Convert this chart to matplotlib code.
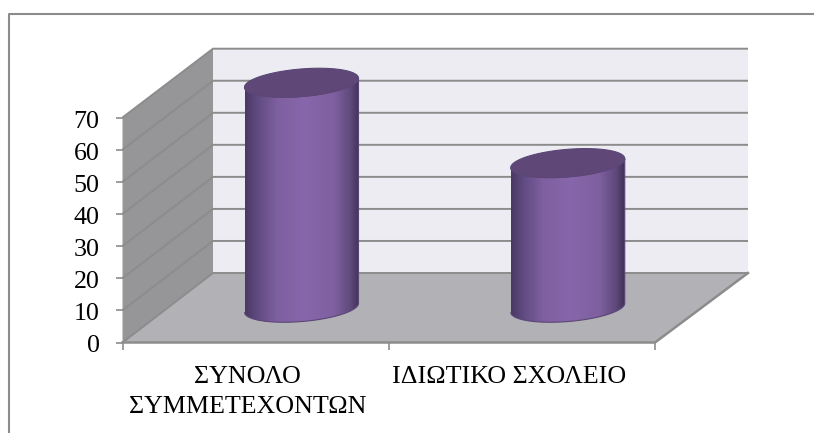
import numpy as np
import matplotlib
matplotlib.use("Agg")
import matplotlib.pyplot as plt
from matplotlib.lines import Line2D
from matplotlib.patches import Polygon, PathPatch
from matplotlib.path import Path
from matplotlib.colors import LinearSegmentedColormap
from matplotlib.transforms import ScaledTranslation

categories = ["ΣΥΝΟΛΟ\nΣΥΜΜΕΤΕΧΟΝΤΩΝ", "ΙΔΙΩΤΙΚΟ ΣΧΟΛΕΙΟ"]
values = [70, 45]
y_ticks = [0, 10, 20, 30, 40, 50, 60, 70]

W, H = 814, 433
plt.rcParams["font.family"] = ["Liberation Serif", "DejaVu Serif"]
fig = plt.figure(figsize=(W / 100, H / 100), dpi=100)
L, R, B, T = 122.5, 655, 342.5, 117.5
ax = fig.add_axes([L / W, 1 - B / H, (R - L) / W, (B - T) / H])
ax.set_xlim(-0.5, 1.5)
ax.set_ylim(0, 70)
ax.patch.set_visible(False)
for s in ax.spines.values():
    s.set_visible(False)

px = 2 / (R - L)               # data units per pixel, x
py = 70 / (B - T)              # data units per pixel, y
DXL, DXR, DY = 90.5 * px, 93 * px, 69.5 * py   # depth offsets of the back wall
SCALE = 224.3 / 225            # back wall is very slightly shorter
GRID = "#8c8c8c"
xl, xr = -0.5, 1.5
ymax = y_ticks[-1]
back = lambda v: DY + v * SCALE

# back wall, side wall, floor
ax.add_patch(Polygon([(xl + DXL, back(0)), (xr + DXR, back(0)), (xr + DXR, back(ymax)), (xl + DXL, back(ymax))],
                     fc="#edecf2", ec="none", zorder=1, clip_on=False))
ax.add_patch(Polygon([(xl, 0), (xl + DXL, back(0)), (xl + DXL, back(ymax)), (xl, ymax)],
                     fc="#969698", ec="none", zorder=1, clip_on=False))
ax.add_patch(Polygon([(xl, 0), (xr, 0), (xr + DXR, back(0)), (xl + DXL, back(0))],
                     fc="#b2b1b5", ec="none", zorder=1, clip_on=False))
for v in y_ticks:
    ax.plot([xl, xl + DXL, xr + DXR], [v, back(v), back(v)], color=GRID, lw=1.4, zorder=2,
            clip_on=False, solid_joinstyle="miter", solid_capstyle="butt")
ax.plot([xl, xr, xr + DXR], [0, 0, back(0)], color=GRID, lw=1.8, zorder=2.5, clip_on=False)

# cylinders
cmap = LinearSegmentedColormap.from_list("cyl", [
    (0.00, "#4a3963"), (0.10, "#5f4a80"), (0.28, "#7e5f9f"), (0.52, "#8767ab"),
    (0.78, "#7e5f9f"), (0.92, "#5f4a7c"), (1.00, "#3f3056")])
RX, SK, RY = 57 * px, 4.5 * py, 13.8 * py
t = np.linspace(0, 2 * np.pi, 121)
grad = np.linspace(0, 1, 256).reshape(1, -1)
for i, v in enumerate(values):
    cx, cy = i + (DXL + DXR) / 4, DY / 2
    ex = RX * np.cos(t)
    ey = SK * np.cos(t) + RY * np.sin(t)
    hi = t[t >= np.pi]                                   # lower half of the rim
    bx = np.r_[cx + RX * np.cos(hi), cx + RX * np.cos(hi[::-1])]
    by = np.r_[cy + SK * np.cos(hi) + RY * np.sin(hi),
               cy + v + SK * np.cos(hi[::-1]) + RY * np.sin(hi[::-1])]
    im = ax.imshow(grad, cmap=cmap, aspect="auto", zorder=3,
                   extent=(cx - RX, cx + RX, cy - RY - 1, cy + v + RY + 1))
    body = PathPatch(Path(np.c_[bx, by]), fc="none", ec="#5b4676", lw=0.8, zorder=3.1, clip_on=False)
    ax.add_patch(body)
    im.set_clip_path(body)
    im.set_clip_box(fig.bbox)
    ax.add_patch(Polygon(np.c_[cx + ex, cy + v + ey], closed=True, fc="#5f4878",
                         ec="#5b4676", lw=0.8, zorder=3.2, clip_on=False))
ax.set_xlim(-0.5, 1.5)
ax.set_ylim(0, 70)

# ticks
ax.set_yticks(y_ticks)
ax.set_xticks([-0.5, 0.5, 1.5])
ax.set_xticklabels([])
ax.set_xticks(range(len(categories)), minor=True)
ax.set_xticklabels(categories, minor=True, linespacing=1.44)
ax.tick_params(axis="y", which="major", length=5, width=1.2, color=GRID, labelsize=18.7, pad=11.5)
ax.tick_params(axis="x", which="major", length=5, width=1.2, color=GRID)
ax.tick_params(axis="x", which="minor", length=0, labelsize=18.7, pad=17)
for lab, dx in zip(ax.get_xticklabels(minor=True), [-8, -13]):
    lab.set_transform(lab.get_transform() + ScaledTranslation(dx / 100, 0, fig.dpi_scale_trans))
for lab in ax.get_yticklabels():
    lab.set_transform(lab.get_transform() + ScaledTranslation(0, -1.5 / 100, fig.dpi_scale_trans))

# outer chart frame
fig.add_artist(Line2D([8.5 / W, 8.5 / W, 1], [0, 1 - 14 / H, 1 - 14 / H], color="#8c8c8c", lw=1.5))
fig.savefig("out.png", dpi=100)
